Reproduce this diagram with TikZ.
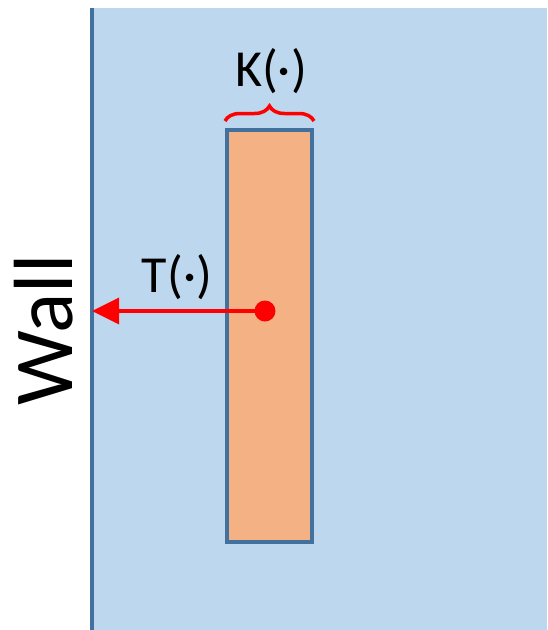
\documentclass[tikz,border=0pt]{standalone}
\usepackage{fontspec}
\setmainfont{Carlito}
\usetikzlibrary{arrows.meta,calc,positioning,decorations.pathreplacing}
\definecolor{FluidBlue}{RGB}{189,215,238}
\definecolor{EdgeBlue}{RGB}{65,113,156}
\definecolor{RodOrange}{RGB}{244,177,131}
\tikzset{
  biglabel/.style={font=\fontsize{52}{60}\selectfont, inner sep=0pt},
}

\begin{document}
\begin{tikzpicture}[x=1pt,y=-1pt]
    \useasboundingbox (0,0) rectangle (547,630);
    % Fluid region
    \fill[FluidBlue] (92,8) rectangle (547,630);
    % Wall
    \coordinate (walltop) at (92,8);
    \coordinate (wallbot) at (92,630);
    \draw[EdgeBlue, line width=4pt] (walltop) -- (wallbot);
    \node[rotate=90, font=\fontsize{84}{90}\selectfont, inner sep=0pt] (wall) at (44,330) {Wall};
    % Rod
    \node[draw=EdgeBlue, fill=RodOrange, line width=4pt, minimum width=85pt,
          minimum height=412pt, inner sep=0pt, anchor=north west] (rod) at (225,128) {};
    \node[circle, fill=red, inner sep=0pt, minimum size=21pt] (pivot) at (265,311) {};
    % Arrow to the wall
    \coordinate (wallhit) at (wallbot |- pivot);
    \draw[red, line width=3.5pt, -{Triangle[length=27pt,width=26pt]}] (pivot.center) -- (wallhit);
    \node[biglabel] (tlabel) at (177,277) {T(·)};
    % Brace over the rod
    \draw[red, line width=3.5pt, decorate, decoration={brace, amplitude=15pt}]
        ([yshift=7pt]rod.north west) -- ([yshift=7pt]rod.north east);
    \node[biglabel] (klabel) at (271,71) {K(·)};
\end{tikzpicture}
\end{document}
